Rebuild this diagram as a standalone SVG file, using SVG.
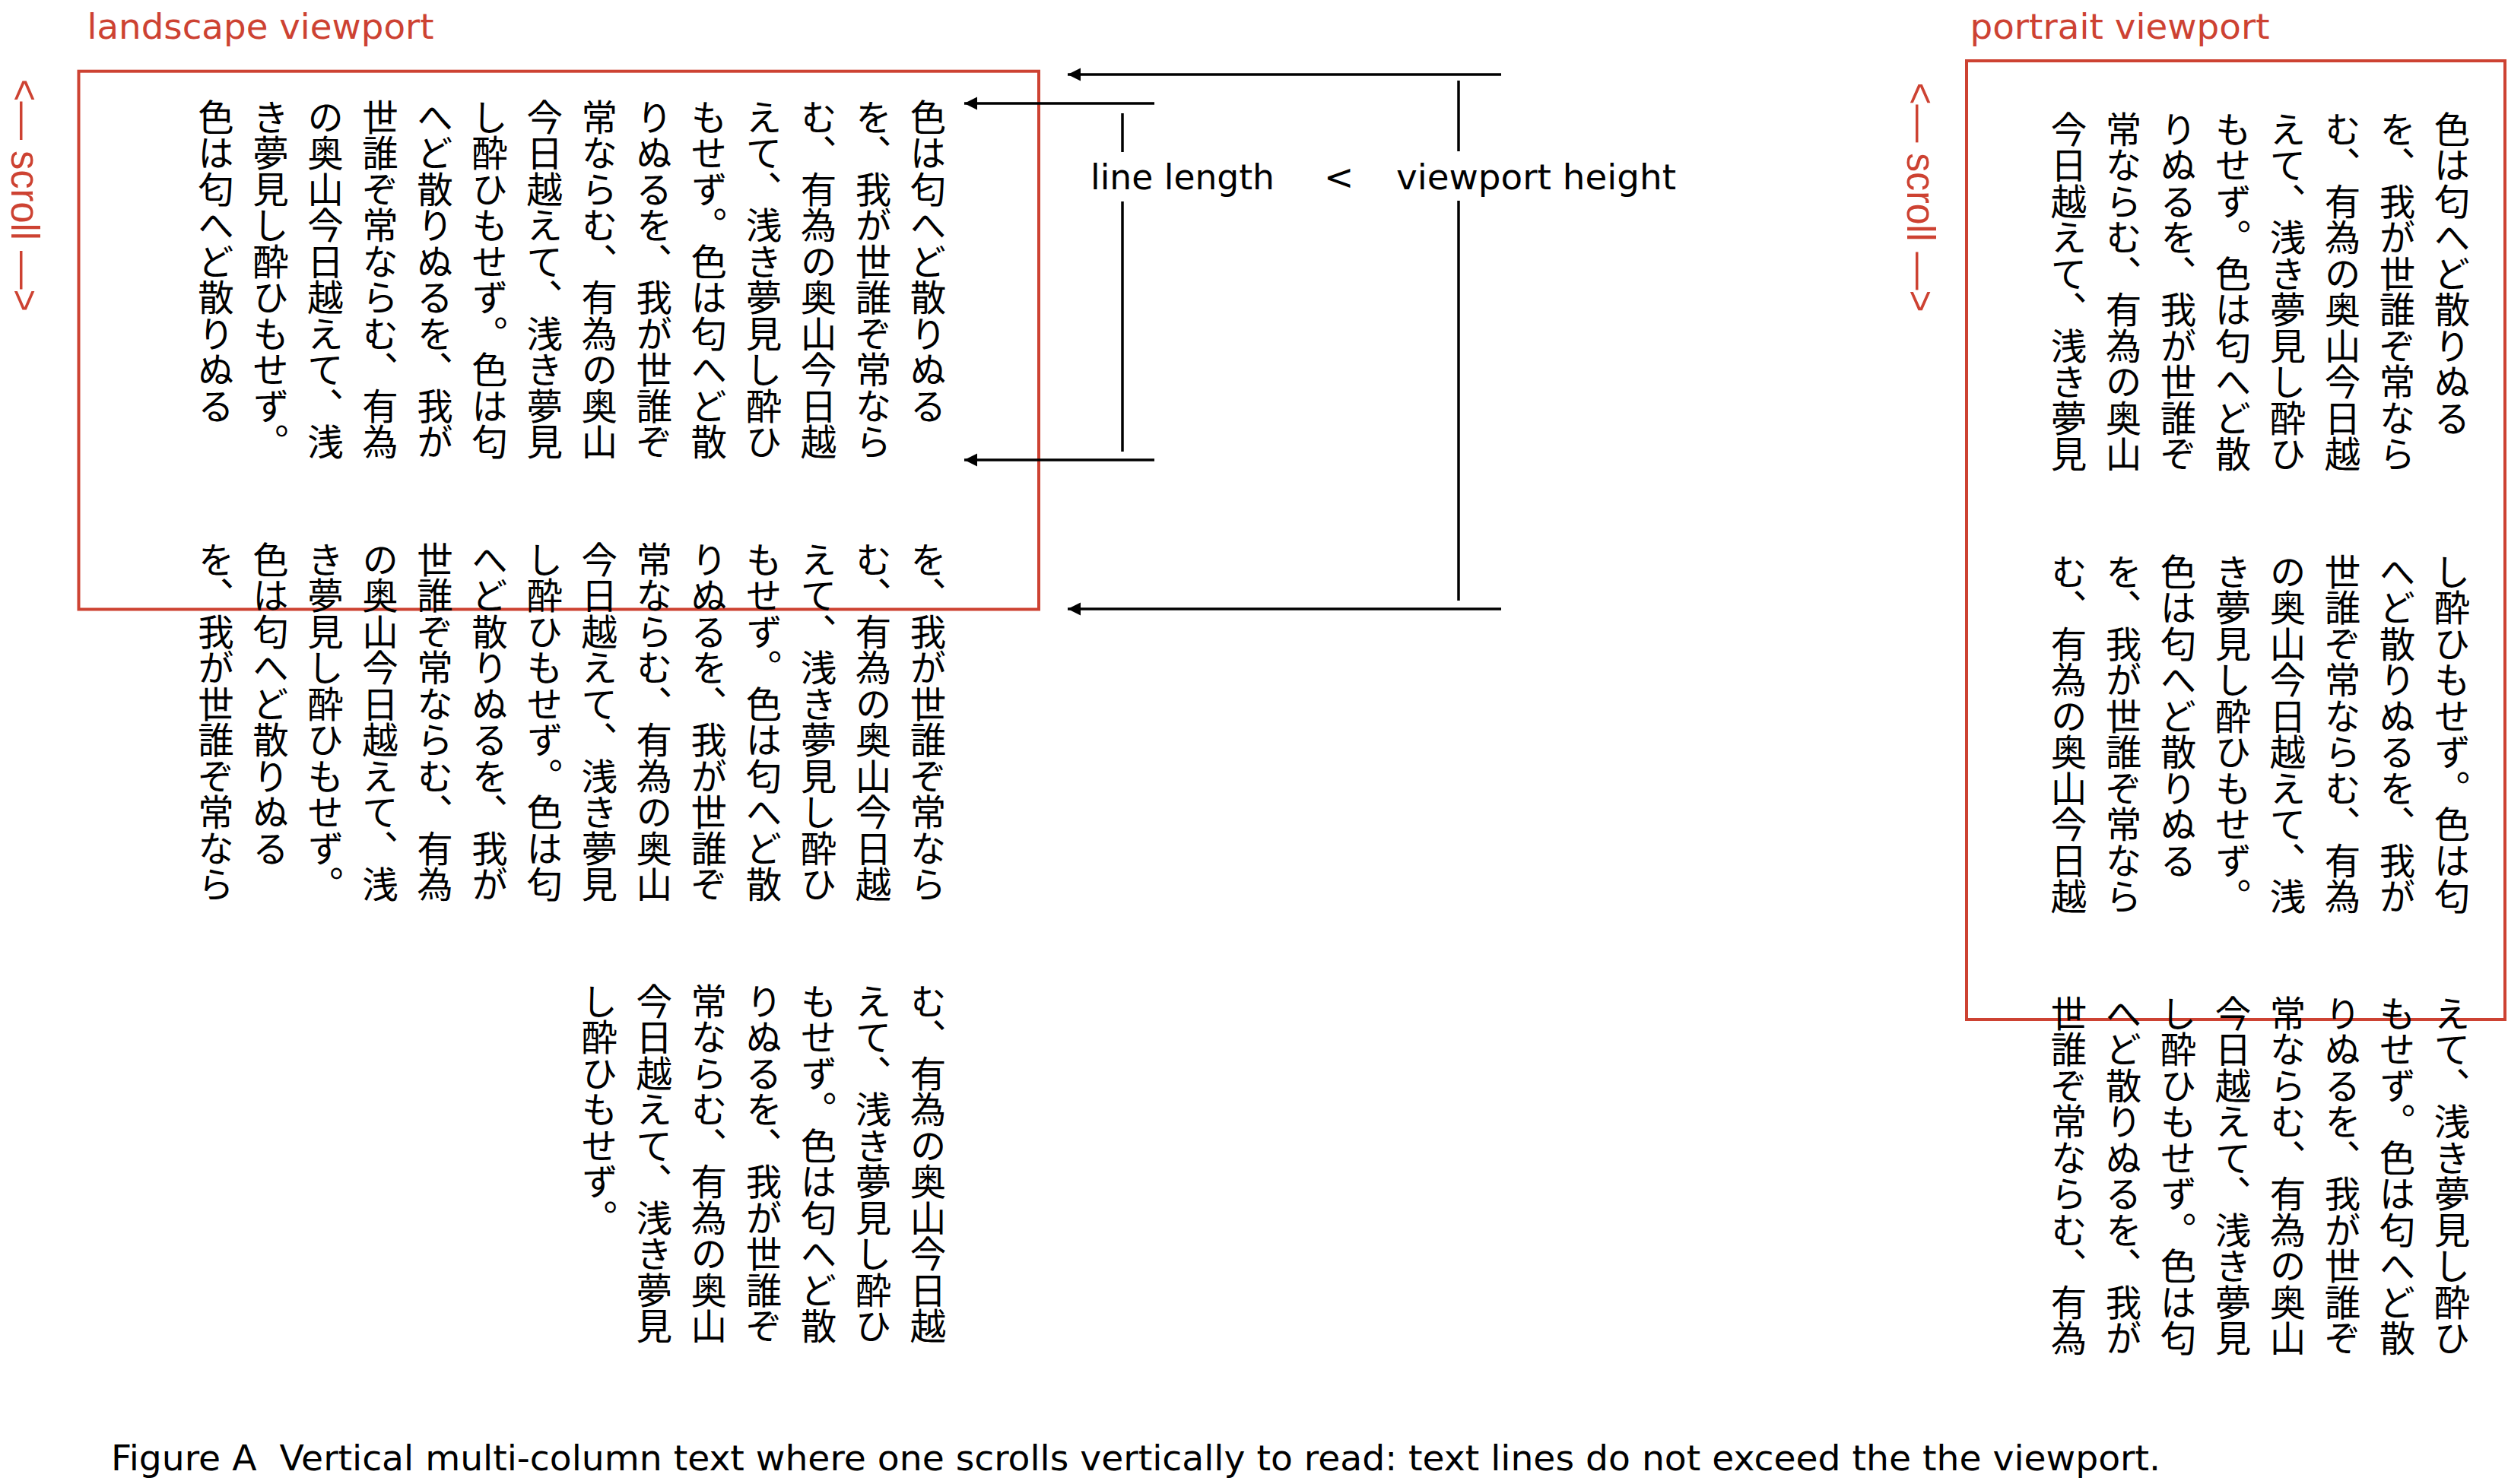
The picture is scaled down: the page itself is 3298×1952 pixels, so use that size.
<svg xmlns="http://www.w3.org/2000/svg" width="3298" height="1952" viewBox="0 0 3298 1952">
<style>
.bg{fill:#ffffff}
.vp{fill:none;stroke:#cd4232;stroke-width:4}
.red{fill:#cd4232;font-family:"DejaVu Sans",sans-serif;font-size:47px}
.scroll{fill:#cd4232;font-family:"Liberation Sans",Arial,sans-serif;font-size:51px}
.lbl{fill:#000;font-family:"DejaVu Sans",sans-serif;font-size:47px}
.jp{fill:#000;font-family:"Noto Sans CJK JP","Noto Sans CJK SC",sans-serif;font-size:47.5px;writing-mode:vertical-rl}
.ln{stroke:#000;stroke-width:3.5;fill:none}
.ar{stroke:#000;stroke-width:3.5;fill:none;marker-end:url(#ah)}
</style>
<defs>
<marker id="ah" markerUnits="userSpaceOnUse" markerWidth="19" markerHeight="19" refX="17" refY="9" orient="auto">
<path d="M0,0.5 L17,9 L0,17.5 Z" fill="#000"/>
</marker>
</defs>
<rect class="bg" x="0" y="0" width="3298" height="1952"/>

<g id="landscape-viewport">
<rect class="vp" x="103.5" y="93.7" width="1262.5" height="707.8"/>
<text class="red" x="114.5" y="50.9" textLength="456" lengthAdjust="spacingAndGlyphs">landscape viewport</text>
<text class="scroll" transform="translate(15.3,104) rotate(90)" x="0" y="0" textLength="306" lengthAdjust="spacingAndGlyphs" style="white-space:pre">&lt;— scroll —&gt;</text>
</g>

<g id="portrait-viewport">
<rect class="vp" x="2586" y="80" width="708" height="1261"/>
<text class="red" x="2590.5" y="51" textLength="394" lengthAdjust="spacingAndGlyphs">portrait viewport</text>
<text class="scroll" transform="translate(2507.5,108.5) rotate(90)" x="0" y="0" textLength="302" lengthAdjust="spacingAndGlyphs" style="white-space:pre">&lt;— scroll —&gt;</text>
</g>

<g id="landscape-text">
<text class="jp" x="1220.5" y="130">色は匂へど散りぬる</text>
<text class="jp" x="1148.5" y="130">を、我が世誰ぞ常なら</text>
<text class="jp" x="1076.4" y="130">む、有為の奥山今日越</text>
<text class="jp" x="1004.4" y="130">えて、浅き夢見し酔ひ</text>
<text class="jp" x="932.3" y="130">もせず。色は匂へど散</text>
<text class="jp" x="860.3" y="130">りぬるを、我が世誰ぞ</text>
<text class="jp" x="788.2" y="130">常ならむ、有為の奥山</text>
<text class="jp" x="716.2" y="130">今日越えて、浅き夢見</text>
<text class="jp" x="644.1" y="130">し酔ひもせず。色は匂</text>
<text class="jp" x="572.1" y="130">へど散りぬるを、我が</text>
<text class="jp" x="500.0" y="130">世誰ぞ常ならむ、有為</text>
<text class="jp" x="428.0" y="130">の奥山今日越えて、浅</text>
<text class="jp" x="355.9" y="130">き夢見し酔ひもせず。</text>
<text class="jp" x="283.9" y="130">色は匂へど散りぬる</text>

<text class="jp" x="1220.5" y="712">を、我が世誰ぞ常なら</text>
<text class="jp" x="1148.5" y="712">む、有為の奥山今日越</text>
<text class="jp" x="1076.4" y="712">えて、浅き夢見し酔ひ</text>
<text class="jp" x="1004.4" y="712">もせず。色は匂へど散</text>
<text class="jp" x="932.3" y="712">りぬるを、我が世誰ぞ</text>
<text class="jp" x="860.3" y="712">常ならむ、有為の奥山</text>
<text class="jp" x="788.2" y="712">今日越えて、浅き夢見</text>
<text class="jp" x="716.2" y="712">し酔ひもせず。色は匂</text>
<text class="jp" x="644.1" y="712">へど散りぬるを、我が</text>
<text class="jp" x="572.1" y="712">世誰ぞ常ならむ、有為</text>
<text class="jp" x="500.0" y="712">の奥山今日越えて、浅</text>
<text class="jp" x="428.0" y="712">き夢見し酔ひもせず。</text>
<text class="jp" x="355.9" y="712">色は匂へど散りぬる</text>
<text class="jp" x="283.9" y="712">を、我が世誰ぞ常なら</text>

<text class="jp" x="1220.5" y="1293">む、有為の奥山今日越</text>
<text class="jp" x="1148.5" y="1293">えて、浅き夢見し酔ひ</text>
<text class="jp" x="1076.4" y="1293">もせず。色は匂へど散</text>
<text class="jp" x="1004.4" y="1293">りぬるを、我が世誰ぞ</text>
<text class="jp" x="932.3" y="1293">常ならむ、有為の奥山</text>
<text class="jp" x="860.3" y="1293">今日越えて、浅き夢見</text>
<text class="jp" x="788.2" y="1293">し酔ひもせず。</text>
</g>

<g id="portrait-text">
<text class="jp" x="3224.6" y="146">色は匂へど散りぬる</text>
<text class="jp" x="3152.6" y="146">を、我が世誰ぞ常なら</text>
<text class="jp" x="3080.6" y="146">む、有為の奥山今日越</text>
<text class="jp" x="3008.6" y="146">えて、浅き夢見し酔ひ</text>
<text class="jp" x="2936.6" y="146">もせず。色は匂へど散</text>
<text class="jp" x="2864.6" y="146">りぬるを、我が世誰ぞ</text>
<text class="jp" x="2792.6" y="146">常ならむ、有為の奥山</text>
<text class="jp" x="2720.6" y="146">今日越えて、浅き夢見</text>

<text class="jp" x="3224.6" y="728">し酔ひもせず。色は匂</text>
<text class="jp" x="3152.6" y="728">へど散りぬるを、我が</text>
<text class="jp" x="3080.6" y="728">世誰ぞ常ならむ、有為</text>
<text class="jp" x="3008.6" y="728">の奥山今日越えて、浅</text>
<text class="jp" x="2936.6" y="728">き夢見し酔ひもせず。</text>
<text class="jp" x="2864.6" y="728">色は匂へど散りぬる</text>
<text class="jp" x="2792.6" y="728">を、我が世誰ぞ常なら</text>
<text class="jp" x="2720.6" y="728">む、有為の奥山今日越</text>

<text class="jp" x="3224.6" y="1309">えて、浅き夢見し酔ひ</text>
<text class="jp" x="3152.6" y="1309">もせず。色は匂へど散</text>
<text class="jp" x="3080.6" y="1309">りぬるを、我が世誰ぞ</text>
<text class="jp" x="3008.6" y="1309">常ならむ、有為の奥山</text>
<text class="jp" x="2936.6" y="1309">今日越えて、浅き夢見</text>
<text class="jp" x="2864.6" y="1309">し酔ひもせず。色は匂</text>
<text class="jp" x="2792.6" y="1309">へど散りぬるを、我が</text>
<text class="jp" x="2720.6" y="1309">世誰ぞ常ならむ、有為</text>
</g>

<g id="connectors">
<line class="ar" x1="1974" y1="98" x2="1404" y2="98"/>
<line class="ar" x1="1974" y1="801" x2="1404" y2="801"/>
<line class="ar" x1="1518" y1="136" x2="1268" y2="136"/>
<line class="ar" x1="1518" y1="605" x2="1268" y2="605"/>
<line class="ln" x1="1476" y1="149" x2="1476" y2="200"/>
<line class="ln" x1="1476" y1="265" x2="1476" y2="594"/>
<line class="ln" x1="1918" y1="106" x2="1918" y2="199"/>
<line class="ln" x1="1918" y1="264" x2="1918" y2="790"/>
</g>

<g id="labels">
<text class="lbl" x="1434" y="248.5" textLength="242" lengthAdjust="spacingAndGlyphs">line length</text>
<text class="lbl" x="1741" y="248.5">&lt;</text>
<text class="lbl" x="1836" y="248.5" textLength="368" lengthAdjust="spacingAndGlyphs">viewport height</text>
</g>

<g id="caption">
<text class="lbl" x="146" y="1934" textLength="2695" lengthAdjust="spacingAndGlyphs" style="white-space:pre">Figure A  Vertical multi-column text where one scrolls vertically to read: text lines do not exceed the the viewport.</text>
</g>
</svg>
